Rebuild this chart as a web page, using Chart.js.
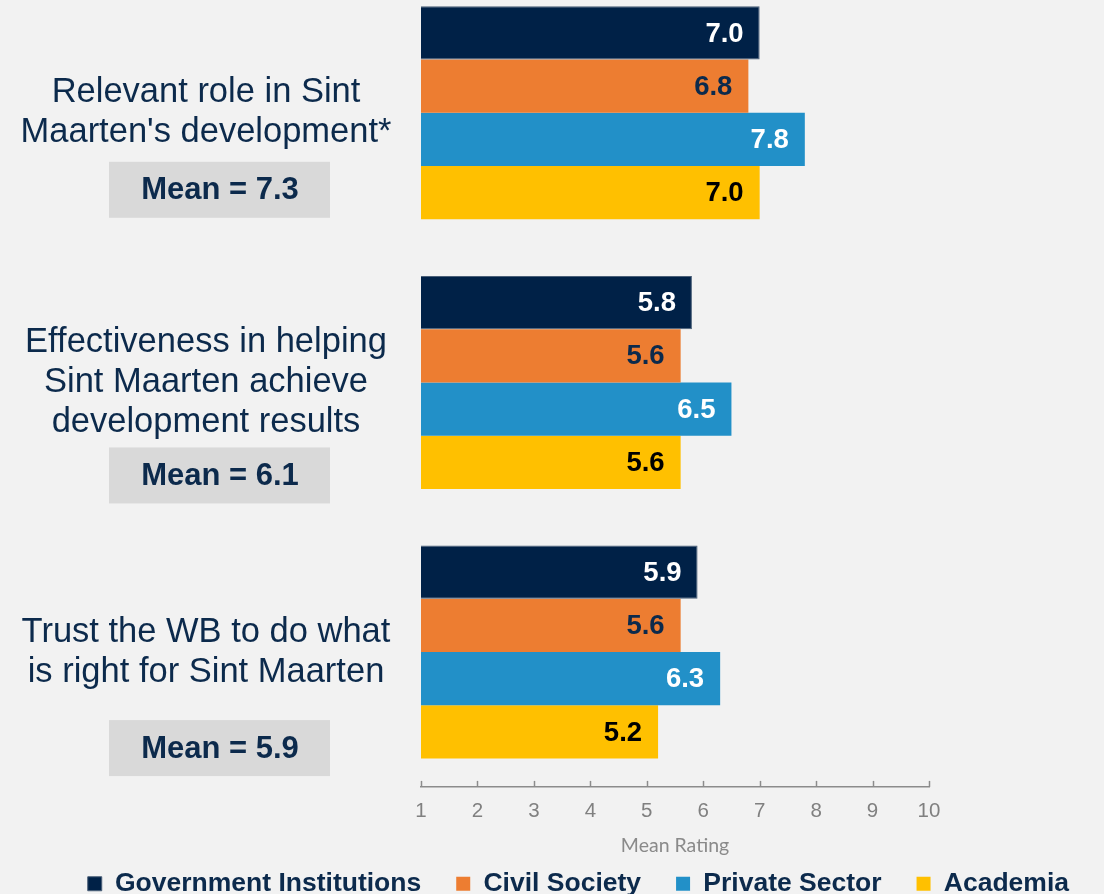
<!DOCTYPE html>
<html>
<head>
<meta charset="utf-8">
<script src="https://cdn.jsdelivr.net/npm/chart.js@4.4.1/dist/chart.umd.min.js"></script>
<style>
  html, body { margin: 0; padding: 0; background: #f2f2f2; overflow: hidden; }
  #wrap { position: absolute; left: 0; top: -22px; width: 1104px; height: 929px; }
</style>
</head>
<body>
<div id="wrap"><canvas id="Chart-1"></canvas></div>
<script>
const categories = [
    ["Relevant role in Sint", "Maarten's development*"],
    ["Effectiveness in helping", "Sint Maarten achieve", "development results"],
    ["Trust the WB to do what", "is right for Sint Maarten"]
];
const meanValues = [7.3, 6.1, 5.9];
const governmentValues = [7.0, 5.8, 5.9];
const civilSocietyValues = [6.8, 5.6, 5.6];
const privateSectorValues = [7.8, 6.5, 6.3];
const academiaValues = [7.0, 5.6, 5.2];
const xTicks = [1, 2, 3, 4, 5, 6, 7, 8, 9, 10];

const navyText = '#0c2a4c';
const labelColors = ['#ffffff', navyText, '#ffffff', '#000000'];
const arial = '"Liberation Sans", Arial, sans-serif';

// left side: category text + grey "Mean = x" box
const sideLabels = {
    id: 'sideLabels',
    afterDraw(chart) {
        const ctx = chart.ctx;
        const y = chart.scales.y;
        const boxOffset = [77, 93, 96];
        ctx.save();
        categories.forEach((lines, i) => {
            const cy = y.getPixelForValue(i);
            ctx.font = '34.5px ' + arial;
            ctx.fillStyle = navyText;
            ctx.textAlign = 'center';
            ctx.textBaseline = 'middle';
            const top = cy - (lines.length - 1) * 20;
            lines.forEach((l, j) => ctx.fillText(l, 206, top + j * 40));

            const by = cy + boxOffset[i];
            ctx.fillStyle = '#d9d9d9';
            ctx.fillRect(109, by - 28, 221, 56);
            ctx.fillStyle = navyText;
            ctx.font = 'bold 31px ' + arial;
            ctx.fillText('Mean = ' + meanValues[i].toFixed(1), 220, by + 1);
        });
        ctx.restore();
    }
};

// value labels inside bar ends
const barValues = {
    id: 'barValues',
    afterDatasetsDraw(chart) {
        const ctx = chart.ctx;
        ctx.save();
        ctx.font = 'bold 27.5px ' + arial;
        ctx.textAlign = 'right';
        ctx.textBaseline = 'middle';
        chart.data.datasets.forEach((ds, d) => {
            chart.getDatasetMeta(d).data.forEach((bar, i) => {
                ctx.fillStyle = labelColors[d];
                ctx.fillText(ds.data[i].toFixed(1), bar.x - 16, bar.y + 1);
            });
        });
        ctx.restore();
    }
};

// tick marks pointing up from the axis line, and the axis title
const xAxisExtras = {
    id: 'xAxisExtras',
    afterDraw(chart) {
        const ctx = chart.ctx;
        const x = chart.scales.x;
        const bottom = chart.chartArea.bottom;
        ctx.save();
        ctx.strokeStyle = '#8c8c8c';
        ctx.lineWidth = 1.5;
        xTicks.forEach(v => {
            const px = Math.round(x.getPixelForValue(v)) + 0.5;
            ctx.beginPath();
            ctx.moveTo(px, bottom);
            ctx.lineTo(px, bottom - 6);
            ctx.stroke();
        });
        ctx.fillStyle = '#8a8a8a';
        ctx.font = '19.5px Lato, "Open Sans", sans-serif';
        ctx.textAlign = 'center';
        ctx.textBaseline = 'middle';
        ctx.fillText('Mean Rating', (x.left + x.right) / 2, bottom + 59);
        ctx.restore();
    }
};

new Chart(document.getElementById("Chart-1"), {
    type: 'bar',
    data: {
        labels: categories,
        datasets: [{
            label: 'Government Institutions',
            data: governmentValues,
            backgroundColor: '#002147',
            borderColor: '#4a5f78',
            borderWidth: 1
        }, {
            label: 'Civil Society',
            data: civilSocietyValues,
            backgroundColor: '#ed7d31',
            borderWidth: 0
        }, {
            label: 'Private Sector',
            data: privateSectorValues,
            backgroundColor: '#2290c8',
            borderWidth: 0
        }, {
            label: 'Academia',
            data: academiaValues,
            backgroundColor: '#ffc000',
            borderWidth: 0
        }]
    },
    options: {
        indexAxis: 'y',
        responsive: true,
        maintainAspectRatio: false,
        animation: false,
        layout: {
            padding: 0
        },
        datasets: {
            bar: {
                categoryPercentage: 0.79,
                barPercentage: 1
            }
        },
        plugins: {
            legend: {
                display: true,
                position: 'bottom',
                align: 'end',
                labels: {
                    boxWidth: 14,
                    boxHeight: 14,
                    padding: 35,
                    color: navyText,
                    font: { family: arial, size: 26.5, weight: 'bold' }
                }
            },
            tooltip: { enabled: false }
        },
        scales: {
            x: {
                type: 'linear',
                min: 1,
                max: 10,
                grid: { display: false, drawTicks: false },
                border: { display: true, color: '#8c8c8c', width: 1.5 },
                ticks: {
                    stepSize: 1,
                    padding: 12,
                    color: '#808080',
                    font: { family: arial, size: 20.5 }
                }
            },
            y: {
                display: true,
                grid: { display: false },
                border: { display: false },
                ticks: { display: false },
                afterFit(scale) { scale.width = 421; }
            },
            yRight: {
                type: 'category',
                position: 'right',
                display: true,
                grid: { display: false },
                border: { display: false },
                ticks: { display: false },
                afterFit(scale) { scale.width = 175; }
            }
        }
    },
    plugins: [sideLabels, barValues, xAxisExtras]
});
</script>
</body>
</html>
